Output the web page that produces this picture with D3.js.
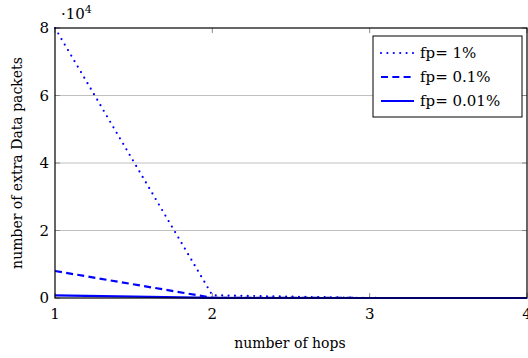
<!DOCTYPE html>
<html lang="en">
<head>
  <meta charset="UTF-8">
  <title>Extra Data packets vs hops</title>
  <script src="https://d3js.org/d3.v7.min.js"></script>
  <style>
    body { margin: 0; background: #fff; }
    svg { display: block; }
    svg text { font-family: "DejaVu Serif", "Liberation Serif", serif; fill: #000; }
  </style>
</head>
<body>
  <div id="chart"></div>
  <script>
    // data
    const hops = [1, 2, 3, 4];
    const fp1 = [80000, 800, 8, 0.08];
    const fp01 = [8000, 80, 0.8, 0.008];
    const fp001 = [800, 8, 0.08, 0.0008];
    const seriesNames = ["fp= 1%", "fp= 0.1%", "fp= 0.01%"];
    const yTicks = [0, 2, 4, 6, 8];
    const xTicks = [1, 2, 3, 4];

    const series = [
      { name: seriesNames[0], values: fp1, dash: "0,6.4", cap: "round" },
      { name: seriesNames[1], values: fp01, dash: "7,4.3", cap: "butt" },
      { name: seriesNames[2], values: fp001, dash: null, cap: "butt" }
    ];

    const width = 528, height = 358;
    const margin = { left: 55, right: 1, top: 28, bottom: 60 };

    const svg = d3.select("#chart").append("svg")
      .attr("width", width).attr("height", height);

    const x = d3.scaleLinear().domain([1, 4]).range([margin.left, width - margin.right]);
    const y = d3.scaleLinear().domain([0, 80000]).range([height - margin.bottom, margin.top]);

    const x0 = x.range()[0], x1 = x.range()[1];
    const y0 = y.range()[0], y1 = y.range()[1];

    // horizontal grid
    svg.append("g").selectAll("line")
      .data(yTicks.slice(1, -1))
      .enter().append("line")
      .attr("x1", x0).attr("x2", x1)
      .attr("y1", d => y(d * 1e4)).attr("y2", d => y(d * 1e4))
      .attr("stroke", "#c0c0c0").attr("stroke-width", 1);

    // inside ticks
    const ticks = svg.append("g").attr("stroke", "#8a8a8a").attr("stroke-width", 1);
    yTicks.forEach(t => {
      const yy = y(t * 1e4);
      ticks.append("line").attr("x1", x0).attr("x2", x0 + 5).attr("y1", yy).attr("y2", yy);
      ticks.append("line").attr("x1", x1 - 5).attr("x2", x1).attr("y1", yy).attr("y2", yy);
    });
    xTicks.forEach(t => {
      const xx = x(t);
      ticks.append("line").attr("x1", xx).attr("x2", xx).attr("y1", y0).attr("y2", y0 - 5);
      ticks.append("line").attr("x1", xx).attr("x2", xx).attr("y1", y1).attr("y2", y1 + 5);
    });

    // lines
    const line = d3.line().x((d, i) => x(hops[i])).y(d => y(d));
    series.forEach(s => {
      svg.append("path")
        .datum(s.values)
        .attr("d", line)
        .attr("fill", "none")
        .attr("stroke", "#0000ff")
        .attr("stroke-width", 2.2)
        .attr("stroke-linecap", s.cap)
        .attr("stroke-dasharray", s.dash);
    });

    // frame
    svg.append("rect")
      .attr("x", x0).attr("y", y1)
      .attr("width", x1 - x0).attr("height", y0 - y1)
      .attr("fill", "none").attr("stroke", "#000").attr("stroke-width", 1.2);

    // tick labels
    svg.append("g").selectAll("text")
      .data(yTicks).enter().append("text")
      .attr("x", x0 - 6).attr("y", d => y(d * 1e4) + 5)
      .attr("text-anchor", "end").attr("font-size", 15)
      .text(d => d);
    svg.append("g").selectAll("text")
      .data(xTicks).enter().append("text")
      .attr("x", d => x(d)).attr("y", y0 + 21)
      .attr("text-anchor", "middle").attr("font-size", 15)
      .text(d => d);

    // scale factor
    const sf = svg.append("text").attr("x", 61).attr("y", 19).attr("font-size", 15);
    sf.append("tspan").text("\u00b710");
    sf.append("tspan").attr("dy", -6).attr("font-size", 11).text("4");

    // axis labels
    svg.append("text")
      .attr("x", (x0 + x1) / 2 - 1).attr("y", 348)
      .attr("text-anchor", "middle").attr("font-size", 14)
      .text("number of hops");
    svg.append("text")
      .attr("transform", `translate(22, ${(y0 + y1) / 2}) rotate(-90)`)
      .attr("text-anchor", "middle").attr("font-size", 14)
      .text("number of extra Data packets");

    // legend
    const lg = svg.append("g").attr("transform", "translate(373, 36)");
    lg.append("rect").attr("width", 149).attr("height", 81)
      .attr("fill", "#fff").attr("stroke", "#000").attr("stroke-width", 1);
    series.forEach((s, i) => {
      const ly = 17 + i * 24;
      lg.append("line")
        .attr("x1", 8).attr("x2", 41).attr("y1", ly).attr("y2", ly)
        .attr("stroke", "#0000ff").attr("stroke-width", 2.2)
        .attr("stroke-linecap", s.cap)
        .attr("stroke-dasharray", s.dash);
      lg.append("text").attr("x", 47).attr("y", ly + 5)
        .attr("font-size", 15).text(s.name);
    });
  </script>
</body>
</html>
